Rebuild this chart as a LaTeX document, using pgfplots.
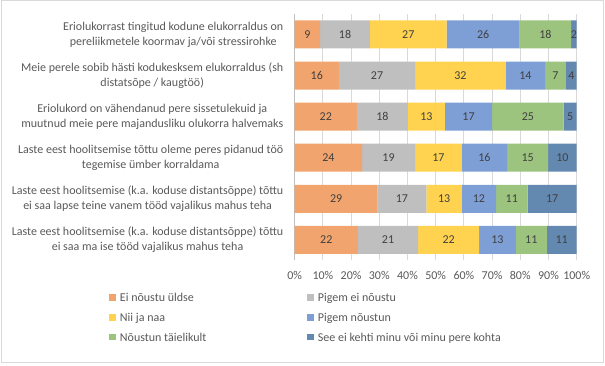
\documentclass[border=0pt]{standalone}
\usepackage{pgfplots}
\pgfplotsset{compat=1.18}
\usepackage{pgfplotstable}
\usepackage{fontspec}
\setmainfont{Carlito}
\definecolor{cA}{HTML}{F1A46E}
\definecolor{cB}{HTML}{BFBFBF}
\definecolor{cC}{HTML}{FFD34F}
\definecolor{cD}{HTML}{7E9FD6}
\definecolor{cE}{HTML}{9CC47F}
\definecolor{cF}{HTML}{6489B0}
\definecolor{txt}{HTML}{595959}
\definecolor{lbl}{HTML}{404040}
\definecolor{gridc}{HTML}{D9D9D9}
\definecolor{axc}{HTML}{BFBFBF}
\pgfplotstableread{
y  a    b    c    d    e    f
5  9.0  17.7 27.2 25.9 18.2 2.0
4  15.7 27.0 32.2 13.9 7.4  3.8
3  22.1 18.0 13.2 16.7 25.4 4.6
2  23.9 18.8 16.6 16.0 14.6 10.1
1  29.4 17.3 12.6 12.1 11.2 17.4
0  22.4 21.4 21.6 13.0 11.0 10.6
}\data
\begin{document}
\begin{tikzpicture}
\useasboundingbox (0,0) rectangle (453.75pt,273.75pt);
\draw[gridc, line width=0.75pt] (0.75pt,2.25pt) rectangle (452.25pt,273pt);
\begin{axis}[
  at={(221pt,78.4pt)}, anchor=south west,
  scale only axis, width=211.5pt, height=184.9pt,
  xbar stacked, bar width=21pt,
  xmin=0, xmax=100, ymin=-0.5, ymax=5.5,
  xtick={0,10,...,100},
  xticklabel={\pgfmathprintnumber{\tick}\%},
  /pgf/number format/assume math mode=true,
  ytick={0,...,5},
  yticklabels={
    {Laste eest hoolitsemise (k.a. koduse distantsõppe) tõttu\\ei saa ma ise tööd vajalikus mahus teha},
    {Laste eest hoolitsemise (k.a. koduse distantsõppe) tõttu\\ei saa lapse teine vanem tööd vajalikus mahus teha},
    {Laste eest hoolitsemise tõttu oleme peres pidanud töö\\tegemise ümber korraldama},
    {Eriolukord on vähendanud pere sissetulekuid ja\\muutnud meie pere majandusliku olukorra halvemaks},
    {Meie perele sobib hästi kodukesksem elukorraldus (sh\\distatsõpe / kaugtöö)},
    {Eriolukorrast tingitud kodune elukorraldus on\\pereliikmetele koormav ja/või stressirohke}},
  yticklabel style={align=center, font=\fontsize{9}{11.25}\selectfont, text=txt, xshift=-5pt},
  xticklabel style={font=\fontsize{9}{11}\selectfont, text=txt, yshift=-4.7pt},
  axis line style={draw=none},
  tick style={draw=none},
  xmajorgrids, major grid style={gridc, line width=0.75pt},
  extra x ticks={0}, extra x tick labels={},
  extra x tick style={grid=major, major grid style={axc, line width=0.75pt}},
  nodes near coords={\pgfmathprintnumber[fixed,precision=0]{\rawx}},
  every node near coord/.append style={anchor=center, font=\fontsize{9}{11}\selectfont, text=lbl},
  legend columns=2,
  legend cell align=left,
  legend style={at={(-0.6585,-0.1266)}, anchor=north west, draw=none, fill=none,
    inner sep=0pt, outer sep=0pt, row sep=5.5pt,
    font=\fontsize{9}{11}\selectfont, text=txt,
    nodes={inner sep=0pt},
    /tikz/every odd column/.append style={column sep=3pt}},
  legend image code/.code={\fill[#1] (0pt,-2.6pt) rectangle (5.25pt,2.6pt);},
]
\addplot[fill=cA, draw=none, visualization depends on={\thisrow{a}\as\rawx}] table[x=a, y=y] {\data};
\addplot[fill=cB, draw=none, visualization depends on={\thisrow{b}\as\rawx}] table[x=b, y=y] {\data};
\addplot[fill=cC, draw=none, visualization depends on={\thisrow{c}\as\rawx}] table[x=c, y=y] {\data};
\addplot[fill=cD, draw=none, visualization depends on={\thisrow{d}\as\rawx}] table[x=d, y=y] {\data};
\addplot[fill=cE, draw=none, visualization depends on={\thisrow{e}\as\rawx}] table[x=e, y=y] {\data};
\addplot[fill=cF, draw=none, visualization depends on={\thisrow{f}\as\rawx}] table[x=f, y=y] {\data};
\legend{\makebox[140.25pt][l]{\strut Ei nõustu üldse},\makebox[140pt][l]{\strut Pigem ei nõustu},
  \makebox[140.25pt][l]{\strut Nii ja naa},\makebox[140pt][l]{\strut Pigem nõustun},
  \makebox[140.25pt][l]{\strut Nõustun täielikult},\makebox[140pt][l]{\strut See ei kehti minu või minu pere kohta}}
\end{axis}
\end{tikzpicture}
\end{document}
